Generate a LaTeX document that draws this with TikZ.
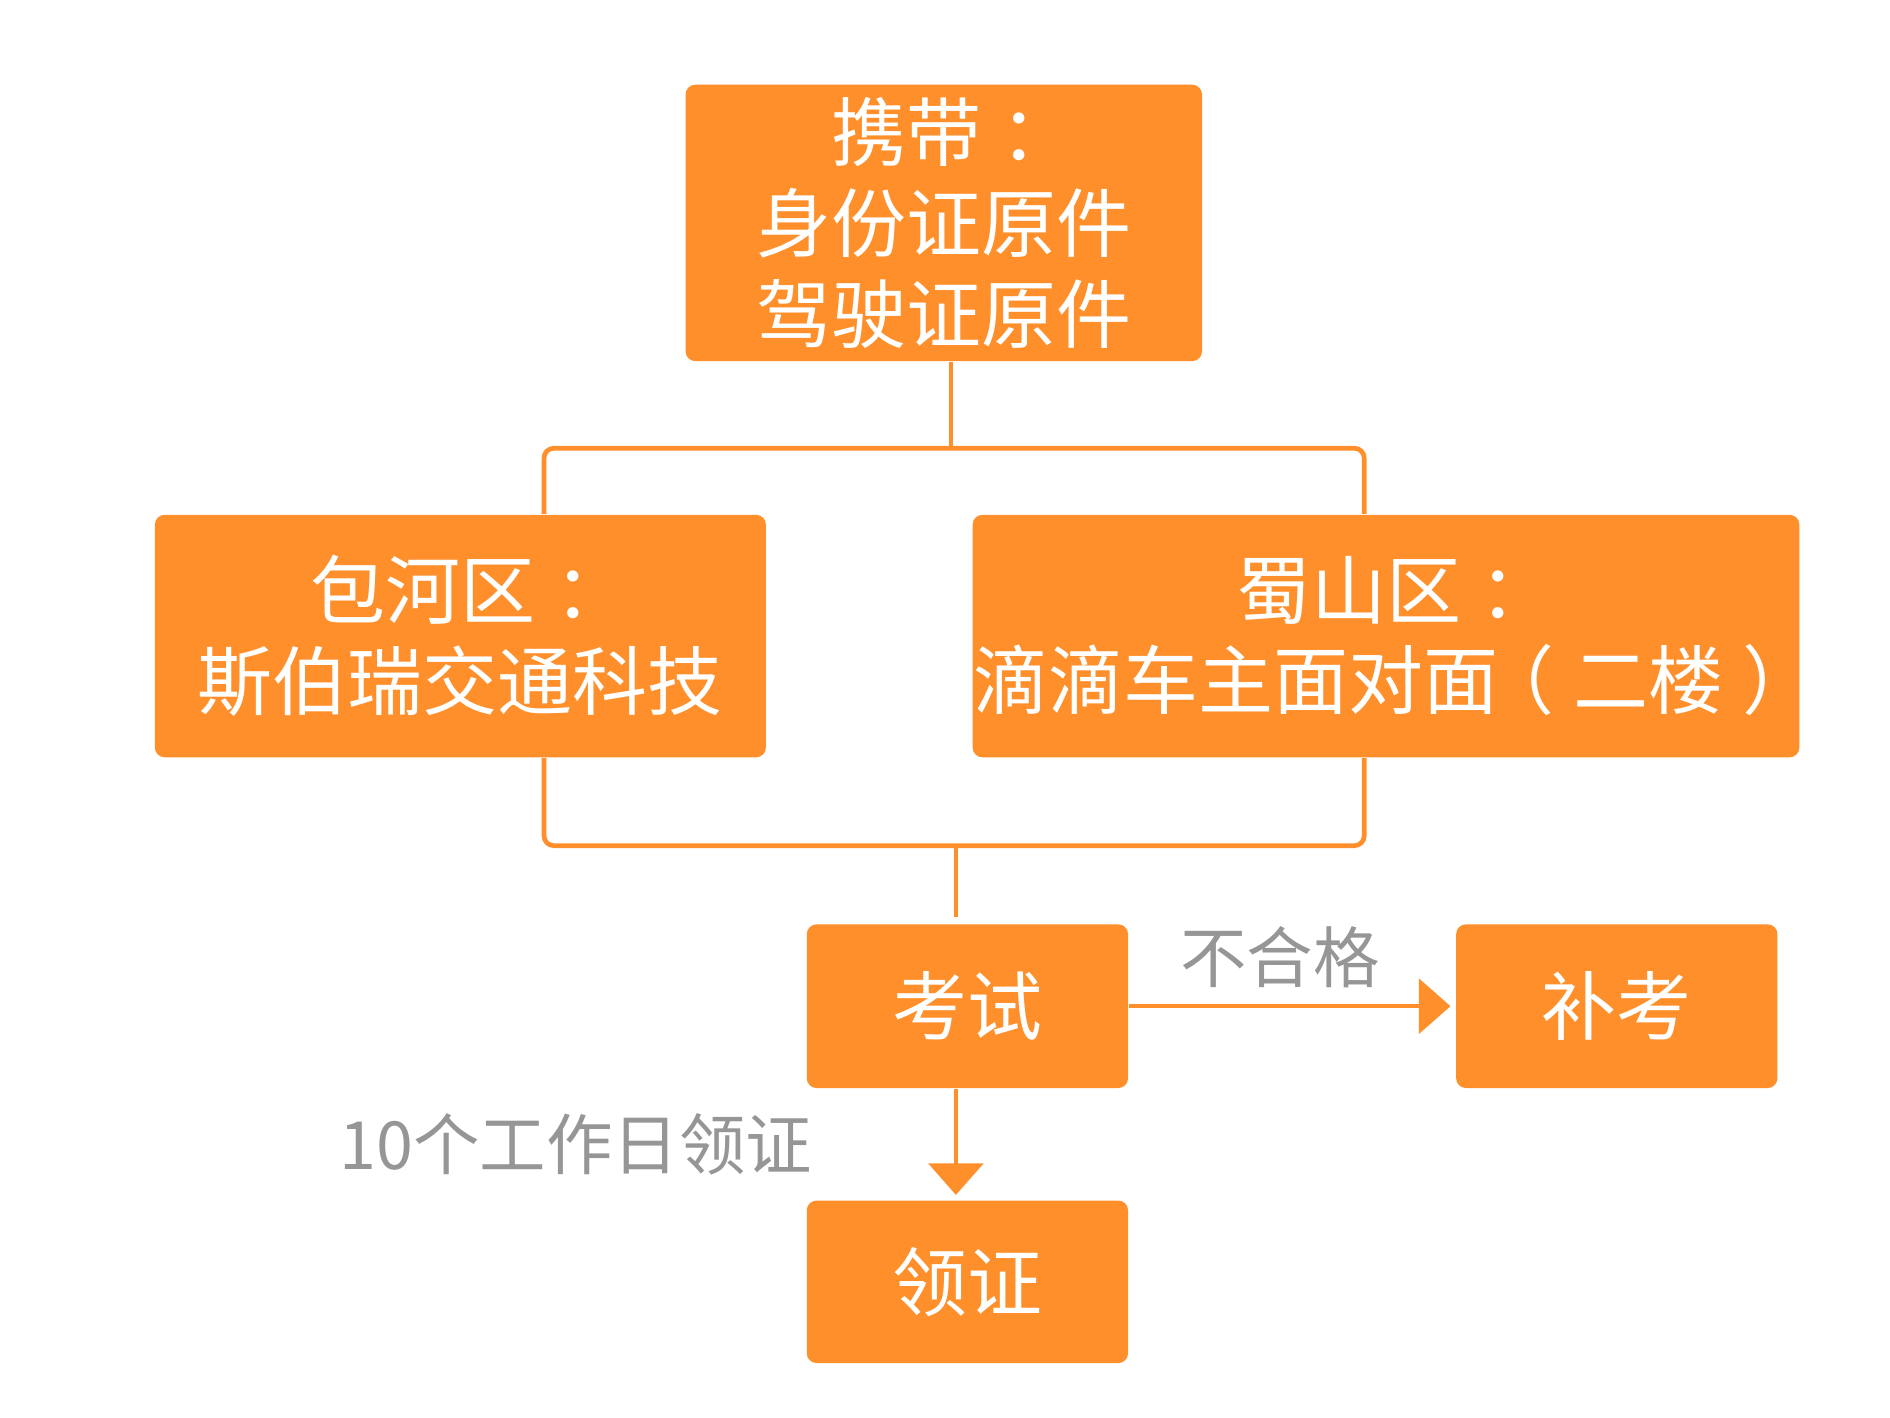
\documentclass[tikz,border=0pt]{standalone}
\usepackage{fontspec}
\setmainfont{Noto Sans CJK SC}
\usepackage{tikz}
\usetikzlibrary{arrows.meta}

\definecolor{boxorange}{RGB}{255,143,43}
\definecolor{notegray}{RGB}{150,150,150}

% full-width punctuation set in the middle of its cell
\newcommand{\midcolon}{\kern0.25em：\kern-0.25em}
\newcommand{\midopen}{\kern-0.25em（\kern0.25em}
\newcommand{\midclose}{\kern0.25em）\kern-0.25em}

\tikzset{
  stepbox/.style={fill=boxorange, text=white, rounded corners=0.8mm, align=center,
    inner sep=0pt, font=\fontsize{17.6}{21.3}\selectfont},
  link/.style={draw=boxorange, line width=1.1pt, rounded corners=0.8mm},
  flow/.style={draw=boxorange, line width=1pt, -{Triangle[length=0.26cm, width=0.45cm]}, shorten >=0.04cm},
  note/.style={text=notegray, font=\fontsize{15.6}{18}\selectfont},
}

\begin{document}
\begin{tikzpicture}[x=0.01cm, y=-0.01cm]
  \useasboundingbox (0,0) rectangle (1560,1170);

  \node[stepbox, minimum width=4.26cm, minimum height=2.28cm] (bring) at (779,184)
    {携带\midcolon\\身份证原件\\驾驶证原件};
  \node[stepbox, minimum width=5.04cm, minimum height=2cm] (baohe) at (380,525)
    {包河区\midcolon\\斯伯瑞交通科技};
  \node[stepbox, minimum width=6.82cm, minimum height=2cm] (shushan) at (1144,525)
    {蜀山区\midcolon\\滴滴车主面对面\midopen 二楼\midclose};
  \node[stepbox, minimum width=2.65cm, minimum height=1.35cm] (exam) at (798.5,830.5) {考试};
  \node[stepbox, minimum width=2.65cm, minimum height=1.35cm] (retake) at (1334.5,830.5) {补考};
  \node[stepbox, minimum width=2.65cm, minimum height=1.34cm] (license) at (798.5,1058) {领证};

  \coordinate (split) at (785,370);
  \coordinate (join) at (789,698);

  \draw[link] (bring.south -| split) -- (split);
  \draw[link] ([xshift=0.69cm]baohe.north) |- (split) -| ([xshift=-0.18cm]shushan.north);
  \draw[link] ([xshift=0.69cm]baohe.south) |- (join) -| ([xshift=-0.18cm]shushan.south);
  \draw[link] (join) -- ([yshift=0.05cm]exam.north -| join);

  \draw[flow] (exam.east) -- (retake.west)
    node[note, midway, above=0.02cm, xshift=-0.1cm] (fail) {不合格};
  \draw[flow] (exam.south -| join) -- (license.north -| join)
    node[note, midway, left=1.05cm] (wait) {10个工作日领证};
\end{tikzpicture}
\end{document}
